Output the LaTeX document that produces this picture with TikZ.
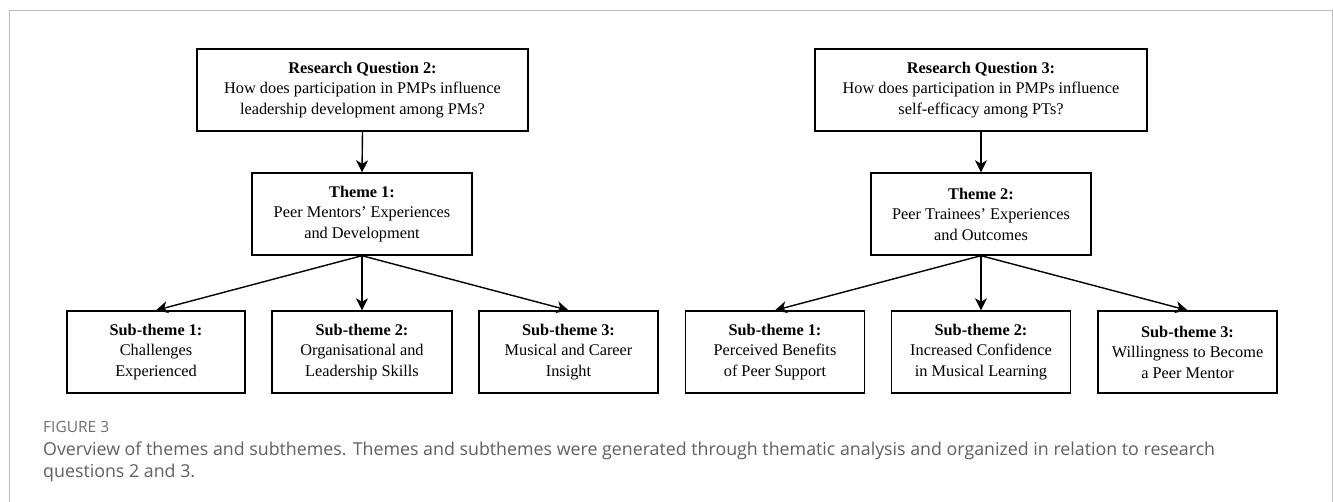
\documentclass[tikz,border=0pt]{standalone}
\usepackage{fontspec}
\setmainfont{Liberation Serif}
\newfontfamily\capfont{Open Sans}
\usetikzlibrary{arrows.meta}
\definecolor{framegray}{HTML}{BDBDBD}
\definecolor{captiongray}{HTML}{606060}
\definecolor{labelgray}{HTML}{707070}
\begin{document}
\begin{tikzpicture}[x=1pt,y=-1pt,
  box/.style={draw=black, line width=1.4pt, align=center, minimum height=82pt, inner sep=2pt,
    font=\fontsize{16.3}{20.5}\selectfont},
  conn/.style={line width=1.4pt, -{Stealth[length=12pt,width=12pt,inset=3.5pt]}},
  caplabel/.style={anchor=base west, inner sep=0pt, text=labelgray, font=\capfont\fontsize{15.5}{18}\selectfont},
  captext/.style={anchor=base west, inner sep=0pt, text=captiongray, font=\capfont\fontsize{17.8}{21}\selectfont}
]
\useasboundingbox (0,0) rectangle (1333,502);
\fill[white] (0,0) rectangle (1333,502);
\draw[framegray, line width=1pt] (9,502) -- (9,11) -- (1332,11) -- (1332,502);

% left group
\node[box, minimum width=331pt] (rq2) at (362.5,90) {\textbf{Research Question 2:}\\How does participation in PMPs influence\\leadership development among PMs?};
\node[box, minimum width=220pt] (t1) at (362,214) {\textbf{Theme 1:}\\Peer Mentors’ Experiences\\and Development};
\node[box, minimum width=178pt] (s1) at (156,352) {\textbf{Sub-theme 1:}\\Challenges\\Experienced};
\node[box, minimum width=180pt] (s2) at (362,352) {\textbf{Sub-theme 2:}\\Organisational and\\Leadership Skills};
\node[box, minimum width=179pt] (s3) at (568.5,352) {\textbf{Sub-theme 3:}\\Musical and Career\\Insight};

% right group
\node[box, minimum width=332pt] (rq3) at (981,90) {\textbf{Research Question 3:}\\How does participation in PMPs influence\\self-efficacy among PTs?};
\node[box, minimum width=220pt] (t2) at (981,214) {\textbf{Theme 2:}\\Peer Trainees’ Experiences\\and Outcomes};
\node[box, minimum width=179pt] (s4) at (775,352) {\textbf{Sub-theme 1:}\\Perceived Benefits\\of Peer Support};
\node[box, minimum width=179pt] (s5) at (981,352) {\textbf{Sub-theme 2:}\\Increased Confidence\\in Musical Learning};
\node[box, minimum width=179pt] (s6) at (1187.5,352) {\textbf{Sub-theme 3:}\\Willingness to Become\\a Peer Mentor};

\draw[conn] (rq2.south) -- (t1.north);
\draw[conn] (t1.south) -- (s1.north);
\draw[conn] (t1.south) -- (s2.north);
\draw[conn] (t1.south) -- (s3.north);
\draw[conn] (rq3.south) -- (t2.north);
\draw[conn] (t2.south) -- (s4.north);
\draw[conn] (t2.south) -- (s5.north);
\draw[conn] (t2.south) -- (s6.north);

% caption
\node[caplabel] (fig) at (43,432) {FIGURE 3};
\node[captext] (cap1) at (43,455) {Overview of themes and subthemes. Themes and subthemes were generated through thematic analysis and organized in relation to research};
\node[captext] (cap2) at (43,477) {questions 2 and 3.};
\end{tikzpicture}
\end{document}
